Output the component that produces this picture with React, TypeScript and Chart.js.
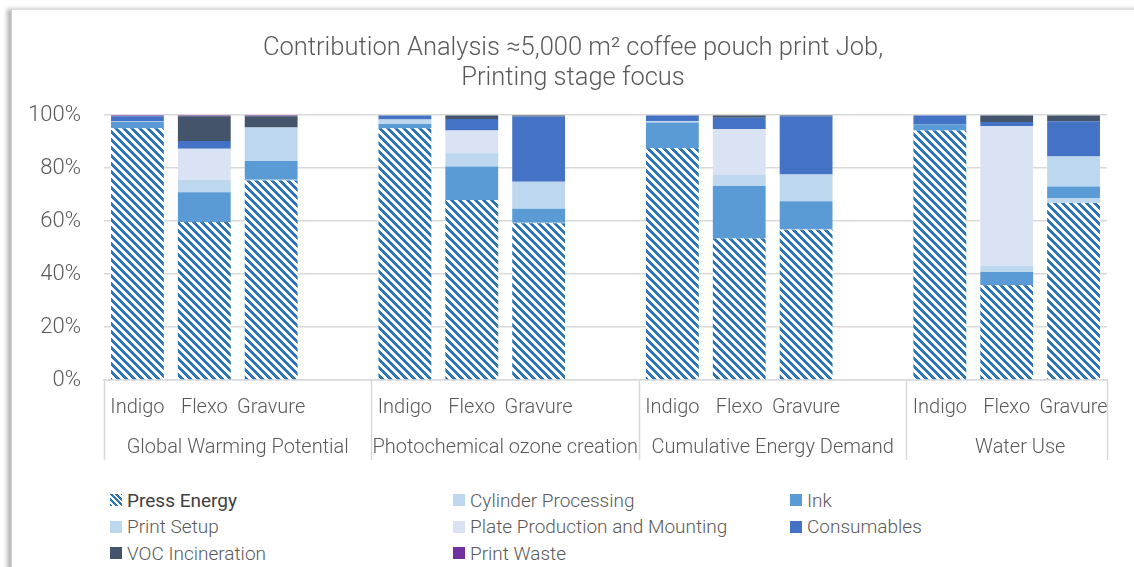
import React, { useEffect, useRef } from "react";
import { Chart, registerables } from "chart.js";

Chart.register(...registerables);

// ---- DATA ----
const groups = [
  "Global Warming Potential",
  "Photochemical ozone creation",
  "Cumulative Energy Demand",
  "Water Use",
];
const processes = ["Indigo", "Flexo", "Gravure"];
const yTicks = [0, 20, 40, 60, 80, 100];
const titleLines = [
  "Contribution Analysis \u22485,000 m\u00b2 coffee pouch print Job,",
  "Printing stage focus",
];

// values per group: [Indigo, Flexo, Gravure] x 4 groups (percent)
const pressEnergy = [95.1, 59.7, 75.3, 95.1, 68.0, 59.2, 87.5, 53.4, 56.7, 94.2, 35.8, 66.8];
const cylinderProcessing = [0, 0, 0.3, 0, 0, 0.2, 0, 0, 0.2, 0, 0, 1.9];
const ink = [2.3, 11.2, 7.1, 1.6, 12.6, 5.3, 9.7, 19.9, 10.6, 2.4, 5.0, 4.4];
const printSetup = [0.2, 4.7, 12.7, 1.7, 5.0, 10.2, 0.5, 4.2, 10.1, 0, 2.3, 11.3];
const plateProduction = [0, 11.7, 0, 0, 8.6, 0, 0, 17.2, 0, 0, 52.7, 0];
const consumables = [2.0, 3.0, 0, 1.6, 4.4, 24.6, 2.3, 4.3, 22.0, 3.4, 1.6, 13.3];
const vocIncineration = [0, 9.3, 4.2, 0, 1.4, 0.5, 0, 1.0, 0.4, 0, 2.6, 2.3];
const printWaste = [0.4, 0.4, 0.4, 0, 0, 0, 0, 0, 0, 0, 0, 0];

const seriesNames = [
  "Press Energy",
  "Cylinder Processing",
  "Ink",
  "Print Setup",
  "Plate Production and Mounting",
  "Consumables",
  "VOC Incineration",
  "Print Waste",
];
const seriesValues = [
  pressEnergy,
  cylinderProcessing,
  ink,
  printSetup,
  plateProduction,
  consumables,
  vocIncineration,
  printWaste,
];
const seriesColors = [
  "#2E75B6",
  "#BDD7EE",
  "#5B9BD5",
  "#BDD7EE",
  "#DAE3F3",
  "#4472C4",
  "#44546A",
  "#7030A0",
];

// ---- helpers ----
// categories: each group has 3 processes + a blank spacer slot (except the last group)
const labels: string[] = [];
groups.forEach((g, gi) => {
  processes.forEach((p) => labels.push(p));
  if (gi < groups.length - 1) labels.push("");
});

function expand(vals: number[]) {
  const out: (number | null)[] = [];
  groups.forEach((g, gi) => {
    for (let k = 0; k < processes.length; k++) {
      const v = vals[gi * processes.length + k];
      out.push(v > 0 ? v : null);
    }
    if (gi < groups.length - 1) out.push(null);
  });
  return out;
}

function makeHatch(color: string) {
  const c = document.createElement("canvas");
  c.width = 8;
  c.height = 8;
  const g = c.getContext("2d")!;
  g.fillStyle = "#ffffff";
  g.fillRect(0, 0, 8, 8);
  g.fillStyle = color;
  for (let y = 0; y < 8; y++) {
    for (let x = 0; x < 8; x++) {
      if ((((x - y) % 8) + 8) % 8 < 4) g.fillRect(x, y, 1, 1);
    }
  }
  return g.createPattern(c, "repeat")!;
}

const FONT = "Roboto, 'Open Sans', sans-serif";
const TEXT = "#595959";
const GRID = "#D9D9D9";

const groupPlugin = {
  id: "groupLabels",
  afterDraw(chart: any) {
    const { ctx, chartArea } = chart;
    const x = chart.scales.x;
    const step = x.getPixelForValue(1) - x.getPixelForValue(0);
    const half = step / 2;
    ctx.save();
    ctx.strokeStyle = GRID;
    ctx.lineWidth = 1.5;
    ctx.fillStyle = TEXT;
    ctx.font = `300 20px ${FONT}`;
    ctx.textAlign = "center";
    ctx.textBaseline = "middle";
    const slot = processes.length + 1;
    const bottom = chartArea.bottom + 80;
    groups.forEach((g, gi) => {
      const first = gi * slot;
      const left = x.getPixelForValue(first) - half;
      const isLast = gi === groups.length - 1;
      const right = left + (isLast ? processes.length : slot) * step;
      ctx.beginPath();
      ctx.moveTo(Math.round(left) + 0.5, chartArea.bottom);
      ctx.lineTo(Math.round(left) + 0.5, bottom);
      if (isLast) {
        ctx.moveTo(Math.round(right) + 0.5, chartArea.bottom);
        ctx.lineTo(Math.round(right) + 0.5, bottom);
      }
      ctx.stroke();
      const cx = isLast ? (left + chart.width) / 2 : (left + right) / 2;
      ctx.fillText(g, cx, chartArea.bottom + 68);
    });
    ctx.restore();
  },
};

export default function App() {
  const ref = useRef<HTMLCanvasElement>(null);

  useEffect(() => {
    const canvas = ref.current!;
    const hatch = makeHatch(seriesColors[0]);
    const datasets = seriesNames.map((name, i) => ({
      label: name,
      data: expand(seriesValues[i]),
      backgroundColor: i === 0 ? (hatch as any) : seriesColors[i],
      borderWidth: 0,
      categoryPercentage: 1,
      barPercentage: 0.79,
    }));

    const chart = new Chart(canvas, {
      type: "bar",
      data: { labels, datasets },
      plugins: [groupPlugin],
      options: {
        responsive: false,
        animation: false,
        devicePixelRatio: 1,
        layout: { padding: { left: 0, right: 0, top: 0, bottom: 0 } },
        plugins: {
          legend: { display: false },
          tooltip: { enabled: false },
          title: {
            display: true,
            text: titleLines,
            color: TEXT,
            font: { family: FONT, size: 25.5, weight: "300" as any, lineHeight: 1.2 },
            padding: { top: 23, bottom: 21 },
          },
        },
        scales: {
          x: {
            stacked: true,
            grid: { display: false, drawTicks: false },
            border: { display: true, color: GRID, width: 1.5 },
            ticks: {
              color: TEXT,
              font: { family: FONT, size: 20, weight: "300" as any },
              padding: 16,
              autoSkip: false,
              maxRotation: 0,
            },
            afterFit: (s: any) => {
              s.height = 95;
            },
          },
          y: {
            stacked: true,
            min: 0,
            max: 100,
            afterBuildTicks: (s: any) => {
              s.ticks = yTicks.map((v) => ({ value: v }));
            },
            grid: { color: GRID, lineWidth: 1.5, drawTicks: false },
            border: { display: false },
            ticks: {
              color: TEXT,
              font: { family: FONT, size: 22, weight: "300" as any },
              padding: 23,
              callback: (v: any) => `${v}%`,
            },
            afterFit: (s: any) => {
              s.width = 92;
            },
          },
          yRight: {
            position: "right",
            display: true,
            min: 0,
            max: 100,
            grid: { display: false, drawTicks: false },
            border: { display: false },
            ticks: { display: false },
            afterFit: (s: any) => {
              s.width = 27;
            },
          },
        },
      },
    });
    return () => chart.destroy();
  }, []);

  const legendLeft = [110, 453, 790];
  return (
    <div
      style={{
        position: "fixed",
        left: 0,
        top: 0,
        width: 1134,
        height: 567,
        background: "#fff",
        overflow: "hidden",
        fontFamily: FONT,
      }}
    >
      <div
        style={{
          position: "absolute",
          left: 11,
          top: 9,
          width: 1200,
          height: 620,
          borderLeft: "1px solid #cfcfcf",
          borderTop: "1px solid #dcdcdc",
          boxShadow: "-4px 0px 4px rgba(0,0,0,0.28)",
          background: "#fff",
        }}
      />
      <canvas
        ref={ref}
        width={1122}
        height={465}
        style={{ position: "absolute", left: 12, top: 10, width: 1122, height: 465 }}
      />
      {seriesNames.map((name, i) => {
        const col = i % 3;
        const row = Math.floor(i / 3);
        const isFirst = i === 0;
        return (
          <div
            key={name}
            style={{
              position: "absolute",
              left: legendLeft[col],
              top: 488 + row * 26.5,
              height: 24,
              display: "flex",
              alignItems: "center",
              whiteSpace: "nowrap",
            }}
          >
            <span
              style={{
                display: "inline-block",
                width: 12,
                height: 12,
                marginRight: 5,
                background: isFirst
                  ? `repeating-linear-gradient(45deg, ${seriesColors[0]} 0px, ${seriesColors[0]} 2px, #fff 2px, #fff 4px)`
                  : seriesColors[i],
              }}
            />
            <span
              style={{
                fontSize: 19,
                fontWeight: isFirst ? 400 : 300,
                color: isFirst ? "#404040" : TEXT,
              }}
            >
              {name}
            </span>
          </div>
        );
      })}
    </div>
  );
}
